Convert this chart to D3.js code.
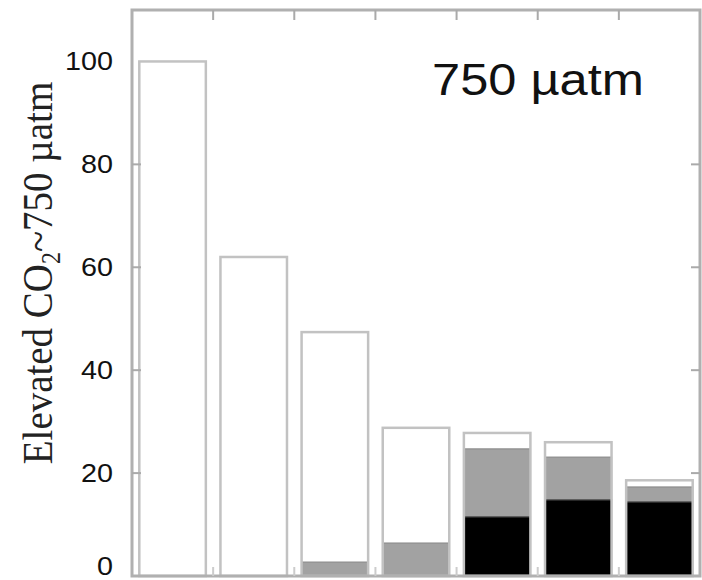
<!DOCTYPE html>
<html>
<head>
<meta charset="utf-8">
<script src="https://cdn.jsdelivr.net/npm/d3@7/dist/d3.min.js"></script>
<style>
  html, body { margin: 0; padding: 0; background: #fff; }
  svg { display: block; }
</style>
</head>
<body>
<svg id="chart" width="702" height="580"></svg>
<script>
// ---- data ----
const categories = ["1", "2", "3", "4", "5", "6", "7"];
const totalValues = [100, 62.0, 47.4, 28.8, 27.8, 26.0, 18.6];
const grayValues  = [0, 0, 2.7, 6.4, 13.2, 8.3, 2.9];
const blackValues = [0, 0, 0, 0, 11.5, 14.8, 14.4];
const yTicks = [0, 20, 40, 60, 80, 100];
const yLabelMain = "Elevated CO";
const yLabelSub = "2";
const yLabelRest = "~750 µatm";
const panelLabel = "750 µatm";

// ---- layout ----
const svg = d3.select("#chart");
const pLeft = 132, pRight = 700, pTop = 10, pBottom = 576;

const x = d3.scaleBand().domain(categories).range([pLeft, pRight])
  .paddingInner(0.18).paddingOuter(0.09);
const y = d3.scaleLinear().domain([0, 110]).range([pBottom, pTop]);

const rows = categories.map((c, i) => ({
  c,
  total: totalValues[i],
  black: blackValues[i],
  gray: grayValues[i]
}));

const g = svg.append("g");
g.selectAll("rect.outer").data(rows).join("rect")
  .attr("class", "outer")
  .attr("x", d => x(d.c))
  .attr("y", d => y(d.total))
  .attr("width", x.bandwidth())
  .attr("height", d => y(0) - y(d.total))
  .attr("fill", "#fff");

g.selectAll("rect.gray").data(rows.filter(d => d.gray > 0)).join("rect")
  .attr("class", "gray")
  .attr("x", d => x(d.c))
  .attr("y", d => y(d.black + d.gray))
  .attr("width", x.bandwidth())
  .attr("height", d => y(d.black) - y(d.black + d.gray))
  .attr("fill", "#a2a2a2")
  .attr("stroke", "#8c8c8c")
  .attr("stroke-width", 1.2);

g.selectAll("rect.black").data(rows.filter(d => d.black > 0)).join("rect")
  .attr("class", "black")
  .attr("x", d => x(d.c))
  .attr("y", d => y(d.black))
  .attr("width", x.bandwidth())
  .attr("height", d => y(0) - y(d.black))
  .attr("fill", "#000")
  .attr("stroke", "#555")
  .attr("stroke-width", 1.2);

g.selectAll("rect.outline").data(rows).join("rect")
  .attr("class", "outline")
  .attr("x", d => x(d.c))
  .attr("y", d => y(d.total))
  .attr("width", x.bandwidth())
  .attr("height", d => y(0) - y(d.total))
  .attr("fill", "none")
  .attr("stroke", "#c2c2c2")
  .attr("stroke-width", 2.5);

// frame
svg.append("rect")
  .attr("x", pLeft).attr("y", pTop)
  .attr("width", pRight - pLeft).attr("height", pBottom - pTop)
  .attr("fill", "none")
  .attr("stroke", "#b0b0b0")
  .attr("stroke-width", 3);

// band boundary ticks (top & bottom)
const bounds = categories.slice(1).map(c => x(c) - x.step() * x.paddingInner() / 2);
svg.selectAll("line.tt").data(bounds).join("line")
  .attr("class", "tt")
  .attr("x1", d => d).attr("x2", d => d)
  .attr("y1", pTop).attr("y2", pTop + 10)
  .attr("stroke", "#aaa").attr("stroke-width", 2);
svg.selectAll("line.tb").data(bounds).join("line")
  .attr("class", "tb")
  .attr("x1", d => d).attr("x2", d => d)
  .attr("y1", pBottom).attr("y2", pBottom - 9)
  .attr("stroke", "#ccc").attr("stroke-width", 2);

// y ticks left & right
const innerTicks = yTicks.filter(t => t > 0 && t < 100);
svg.selectAll("line.yl").data(innerTicks).join("line")
  .attr("class", "yl")
  .attr("x1", pLeft).attr("x2", pLeft + 9)
  .attr("y1", d => y(d)).attr("y2", d => y(d))
  .attr("stroke", "#aaa").attr("stroke-width", 2);
svg.selectAll("line.yr").data(innerTicks).join("line")
  .attr("class", "yr")
  .attr("x1", pRight).attr("x2", pRight - 9)
  .attr("y1", d => y(d)).attr("y2", d => y(d))
  .attr("stroke", "#aaa").attr("stroke-width", 2);

// y tick labels
svg.selectAll("g.ylab").data(yTicks).join("g")
  .attr("class", "ylab")
  .attr("transform", d => `translate(113,${Math.min(y(d), 566)}) scale(1.15,1)`)
  .append("text")
  .attr("text-anchor", "end")
  .attr("dy", "0.36em")
  .attr("font-family", "'Liberation Sans', Arial, sans-serif")
  .attr("font-size", 25)
  .attr("fill", "#111")
  .text(d => d);

// y axis title
const yt = svg.append("text")
  .attr("transform", "translate(52,273) scale(1.1,1) rotate(-90)")
  .attr("text-anchor", "middle")
  .attr("font-family", "'Liberation Serif', 'Times New Roman', serif")
  .attr("font-size", 39)
  .attr("fill", "#222");
yt.append("tspan").text(yLabelMain);
yt.append("tspan").attr("font-size", 24).attr("dy", 7).text(yLabelSub);
yt.append("tspan").attr("dy", -7).text(yLabelRest);

// panel label
svg.append("text")
  .attr("transform", "translate(432,95) scale(1.15,1)")
  .attr("font-family", "'Liberation Sans', Arial, sans-serif")
  .attr("font-size", 44)
  .attr("fill", "#111")
  .text(panelLabel);
</script>
</body>
</html>
